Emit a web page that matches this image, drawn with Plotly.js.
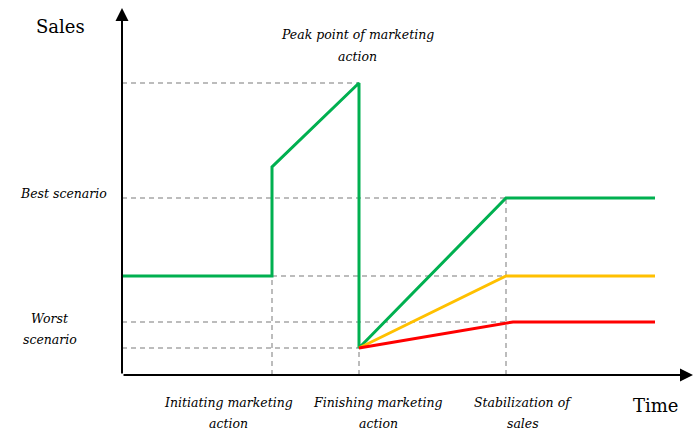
<!DOCTYPE html>
<html>
<head>
<meta charset="utf-8">
<script src="https://cdn.plot.ly/plotly-3.0.1.min.js"></script>
<style>
  html, body { margin: 0; padding: 0; background: #fff; }
  #chart { width: 695px; height: 432px; }
</style>
</head>
<body>
<div id="chart"></div>
<script>
// time points (arbitrary units) and sales levels
const tStart = 0, tInit = 150, tFinish = 237, tStable = 384, tEnd = 533, tRedStable = 391;
const baseSales = 99, jumpSales = 208, peakSales = 292, dropSales = 27;
const bestSales = 177, midSales = 99, worstSales = 53;

const greenX = [tStart, tInit, tInit, tFinish, tFinish, tStable, tEnd];
const greenY = [baseSales, baseSales, jumpSales, peakSales, dropSales, bestSales, bestSales];
const yellowX = [tFinish, tStable, tEnd];
const yellowY = [dropSales, midSales, midSales];
const redX = [tFinish, tRedStable, tEnd];
const redY = [dropSales, worstSales, worstSales];

// dashed reference lines: [x0, y0, x1, y1]
const guides = [
  [tStart, peakSales, tFinish, peakSales],
  [tStart, bestSales, tStable, bestSales],
  [tInit, midSales, tStable, midSales],
  [tStart, worstSales, tStable, worstSales],
  [tStart, dropSales, tFinish, dropSales],
  [tInit, 0, tInit, baseSales],
  [tFinish, 0, tFinish, dropSales],
  [tStable, 0, tStable, bestSales]
];

const initLabel = ['Initiating marketing', 'action'];
const finishLabel = ['Finishing marketing', 'action'];
const stableLabel = ['Stabilization of', 'sales'];
const peakLabel = ['Peak point of marketing', 'action'];
const bestLabel = ['Best scenario'];
const worstLabel = ['Worst', 'scenario'];

const gx = [], gy = [];
guides.forEach(g => { gx.push(g[0], g[2], null); gy.push(g[1], g[3], null); });

const serif = 'DejaVu Serif';
const xMax = 571, yMax = 367;
const lineGap = 21;

const traces = [
  { type: 'scatter', mode: 'lines', x: gx, y: gy, line: { color: '#a6a6a6', width: 1.5, dash: '5px,4px' }, hoverinfo: 'skip', cliponaxis: false },
  { type: 'scatter', mode: 'lines', x: greenX, y: greenY, line: { color: '#00b050', width: 3 }, cliponaxis: false },
  { type: 'scatter', mode: 'lines', x: yellowX, y: yellowY, line: { color: '#ffc000', width: 3 }, cliponaxis: false },
  { type: 'scatter', mode: 'lines', x: redX, y: redY, line: { color: '#ff0000', width: 3 }, cliponaxis: false }
];

// text positions given in plot units, placed with paper refs so they may sit outside the axes
function label(text, x, y, size, italic) {
  return {
    text, x: x / xMax, y: y / yMax, xref: 'paper', yref: 'paper', showarrow: false,
    font: { family: serif, size, color: '#000', style: italic ? 'italic' : 'normal' },
    xanchor: 'center', yanchor: 'middle', align: 'center'
  };
}
function block(lines, x, yTop) {
  return lines.map((t, i) => label(t, x, yTop - i * lineGap, 12.5, true));
}

const annotations = [
  // axes with arrowheads
  { x: 0, y: yMax, ax: 0, ay: 0, xref: 'x', yref: 'y', axref: 'x', ayref: 'y', text: '', showarrow: true, arrowhead: 2, arrowsize: 1.3, arrowwidth: 2, arrowcolor: '#000', standoff: 0 },
  { x: xMax, y: 0, ax: 0, ay: 0, xref: 'x', yref: 'y', axref: 'x', ayref: 'y', text: '', showarrow: true, arrowhead: 2, arrowsize: 1.3, arrowwidth: 2, arrowcolor: '#000', standoff: 0 },
  label('Sales', -62, 348, 18, false),
  label('Time', 533, -30, 18, false),
  ...block(bestLabel, -59, 181),
  ...block(worstLabel, -72, 57),
  ...block(initLabel, 106, -27),
  ...block(finishLabel, 256, -27),
  ...block(stableLabel, 401, -27),
  ...block(peakLabel, 235, 340)
];

const layout = {
  width: 695, height: 432,
  margin: { l: 122, r: 2, t: 8, b: 57 },
  paper_bgcolor: '#fff', plot_bgcolor: '#fff',
  showlegend: false,
  xaxis: { range: [0, xMax], showgrid: false, zeroline: false, showticklabels: false, showline: false, ticks: '', fixedrange: true },
  yaxis: { range: [0, yMax], showgrid: false, zeroline: false, showticklabels: false, showline: false, ticks: '', fixedrange: true },
  annotations
};

Plotly.newPlot('chart', traces, layout, { displayModeBar: false, staticPlot: true });
</script>
</body>
</html>
